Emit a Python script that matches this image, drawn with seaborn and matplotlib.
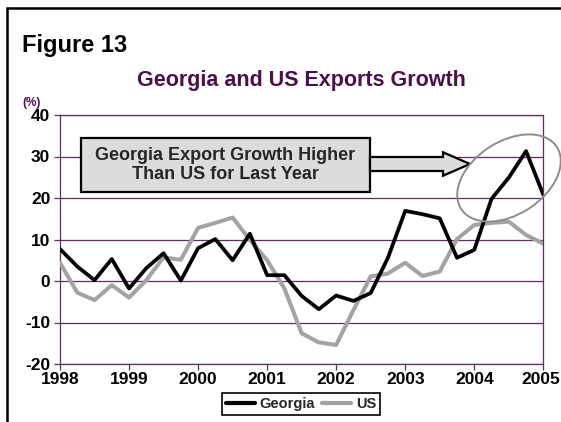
import numpy as np
import pandas as pd
import matplotlib
matplotlib.use("Agg")
import matplotlib.pyplot as plt
import matplotlib.transforms as mtransforms
import seaborn as sns
from matplotlib.patches import Rectangle, FancyArrow, Ellipse
from matplotlib.ticker import MultipleLocator

# Quarterly export growth, year over year (%)
quarters = pd.period_range("1998Q1", "2005Q1", freq="Q")
georgia = [7.7, 3.5, 0.2, 5.3, -1.8, 3.1, 6.7, 0.1,
           7.9, 10.1, 5.0, 11.4, 1.4, 1.4, -3.6, -6.8,
           -3.5, -4.8, -2.9, 5.6, 16.9, 16.1, 15.1, 5.6,
           7.5, 19.8, 24.9, 31.3, 20.8]
us = [4.4, -2.8, -4.6, -1.0, -4.0, 0.2, 5.7, 5.1,
      12.8, 14.0, 15.3, 9.9, 5.0, -1.8, -12.6, -14.8,
      -15.4, -7.0, 1.1, 1.8, 4.4, 1.2, 2.3, 10.1,
      13.5, 14.0, 14.3, 11.1, 9.0]
series_names = ["Georgia", "US"]
year_ticks = [1998, 1999, 2000, 2001, 2002, 2003, 2004, 2005]
pct_ticks = [-20, -10, 0, 10, 20, 30, 40]

title = "Georgia and US Exports Growth"
callout = "Georgia Export Growth Higher\nThan US for Last Year"

purple = "#5E2E5E"
title_purple = "#4B0F4B"
colors = {"Georgia": "#000000", "US": "#A3A3A3"}
widths = {"Georgia": 2.7, "US": 2.9}

t = quarters.year + (quarters.quarter - 1) / 4.0
wide = pd.DataFrame({"t": t, "Georgia": georgia, "US": us})
long = wide.melt(id_vars="t", var_name="series", value_name="value")

sns.set_theme(style="white")
plt.rcParams["font.family"] = ["Liberation Sans", "DejaVu Sans"]
plt.rcParams["font.weight"] = "bold"

W, H = 561, 422
fig = plt.figure(figsize=(W / 100, H / 100), dpi=100)
fig.patch.set_facecolor("white")
ax = fig.add_axes([60 / W, (H - 364) / H, (543.3 - 60) / W, (364 - 115) / H])

sns.lineplot(data=long, x="t", y="value", hue="series",
             hue_order=["US", "Georgia"], palette=colors,
             linewidth=2.7, ax=ax, legend=True)
handles, labels = ax.get_legend_handles_labels()
ax.get_legend().remove()

# Georgia drawn above the US series
black = matplotlib.colors.to_rgb(colors["Georgia"])
for line in ax.lines:
    is_ga = np.allclose(matplotlib.colors.to_rgb(line.get_color()), black)
    name = "Georgia" if is_ga else "US"
    line.set_zorder(4 if is_ga else 3)
    line.set_linewidth(widths[name])

ax.set_xlim(year_ticks[0], year_ticks[-1])
ax.set_ylim(pct_ticks[0], pct_ticks[-1])
ax.set_xticks(year_ticks)
ax.set_xticklabels([str(y) for y in year_ticks])
ax.xaxis.set_minor_locator(MultipleLocator(0.25))
ax.set_yticks(pct_ticks)
ax.set_yticklabels([str(v) for v in pct_ticks])
ax.set_xlabel("")
ax.set_ylabel("")

ax.yaxis.grid(True, color=purple, linewidth=0.9, zorder=1)
ax.xaxis.grid(False)
ax.set_axisbelow(True)
for s in ax.spines.values():
    s.set_color(purple)
    s.set_linewidth(0.9)
ax.tick_params(axis="both", which="both", direction="out", color=purple,
               width=0.9, labelcolor="black")
ax.tick_params(axis="x", which="major", length=4, pad=2, labelsize=12.5)
ax.tick_params(axis="x", which="minor", length=4)
ax.tick_params(axis="y", which="major", length=4, pad=3, labelsize=12.5)
ax.tick_params(left=True, bottom=True)
for lab in ax.get_xticklabels() + ax.get_yticklabels():
    lab.set_fontweight("bold")
# nudge the last year label inward so it stays inside the canvas
last = ax.get_xticklabels()[-1]
last.set_transform(last.get_transform() + mtransforms.ScaledTranslation(
    -3 / 100, 0, fig.dpi_scale_trans))

# Headings
fig.text(22 / W, 1 - 52 / H, "Figure 13", fontsize=17, fontweight="bold",
         color="black", ha="left", va="baseline")
fig.text(301 / W, 1 - 86 / H, title, fontsize=15.5, fontweight="bold",
         color=title_purple, ha="center", va="baseline")
fig.text(22 / W, 1 - 106 / H, "(%)", fontsize=8.5, fontweight="bold",
         color=title_purple, ha="left", va="baseline")

# Outer frame (left and top edges visible)
inch = fig.dpi_scale_trans
fig.add_artist(Rectangle((0.07, -1.0), 10.0, (H - 8) / 100 + 1.0, transform=inch,
                         fill=False, edgecolor="black", linewidth=1.8, clip_on=False))

# Callout box, arrow and highlight ellipse
box = Rectangle((0.807, (H - 192.3) / 100), 3.70 - 0.807, 0.54, transform=inch,
                facecolor="#DCDCDC", edgecolor="black", linewidth=1.6,
                zorder=6, clip_on=False)
ax.add_artist(box)
ax.text(2.253, (H - 165.3) / 100, callout, transform=inch, ha="center",
        va="center", multialignment="center", fontsize=13, fontweight="bold",
        linespacing=1.15, zorder=7, clip_on=False)
arrow = FancyArrow(3.70, (H - 164) / 100, 1.00, 0.0, width=0.14,
                   head_width=0.235, head_length=0.27, length_includes_head=True,
                   transform=inch, facecolor="#DCDCDC", edgecolor="black",
                   linewidth=1.6, zorder=6, clip_on=False)
ax.add_artist(arrow)
ring = Ellipse((5.09, (H - 178) / 100), 1.14, 0.73, angle=33, transform=inch,
               fill=False, edgecolor="#8C8C8C", linewidth=1.4, zorder=6,
               clip_on=False)
ax.add_artist(ring)

order = [labels.index(n) for n in series_names]
leg = fig.legend([handles[i] for i in order], [labels[i] for i in order],
                 loc="center", bbox_to_anchor=(301 / W, (H - 404) / H), ncol=2,
                 frameon=True, fancybox=False, framealpha=1, edgecolor="black",
                 borderpad=0.25, handlelength=2.0, handletextpad=0.3,
                 columnspacing=0.5, prop={"size": 10.5, "weight": "bold"})
leg.get_frame().set_linewidth(1.2)
for h in leg.legend_handles:
    h.set_linewidth(3.0)

fig.savefig("out.png", dpi=100, facecolor="white")
